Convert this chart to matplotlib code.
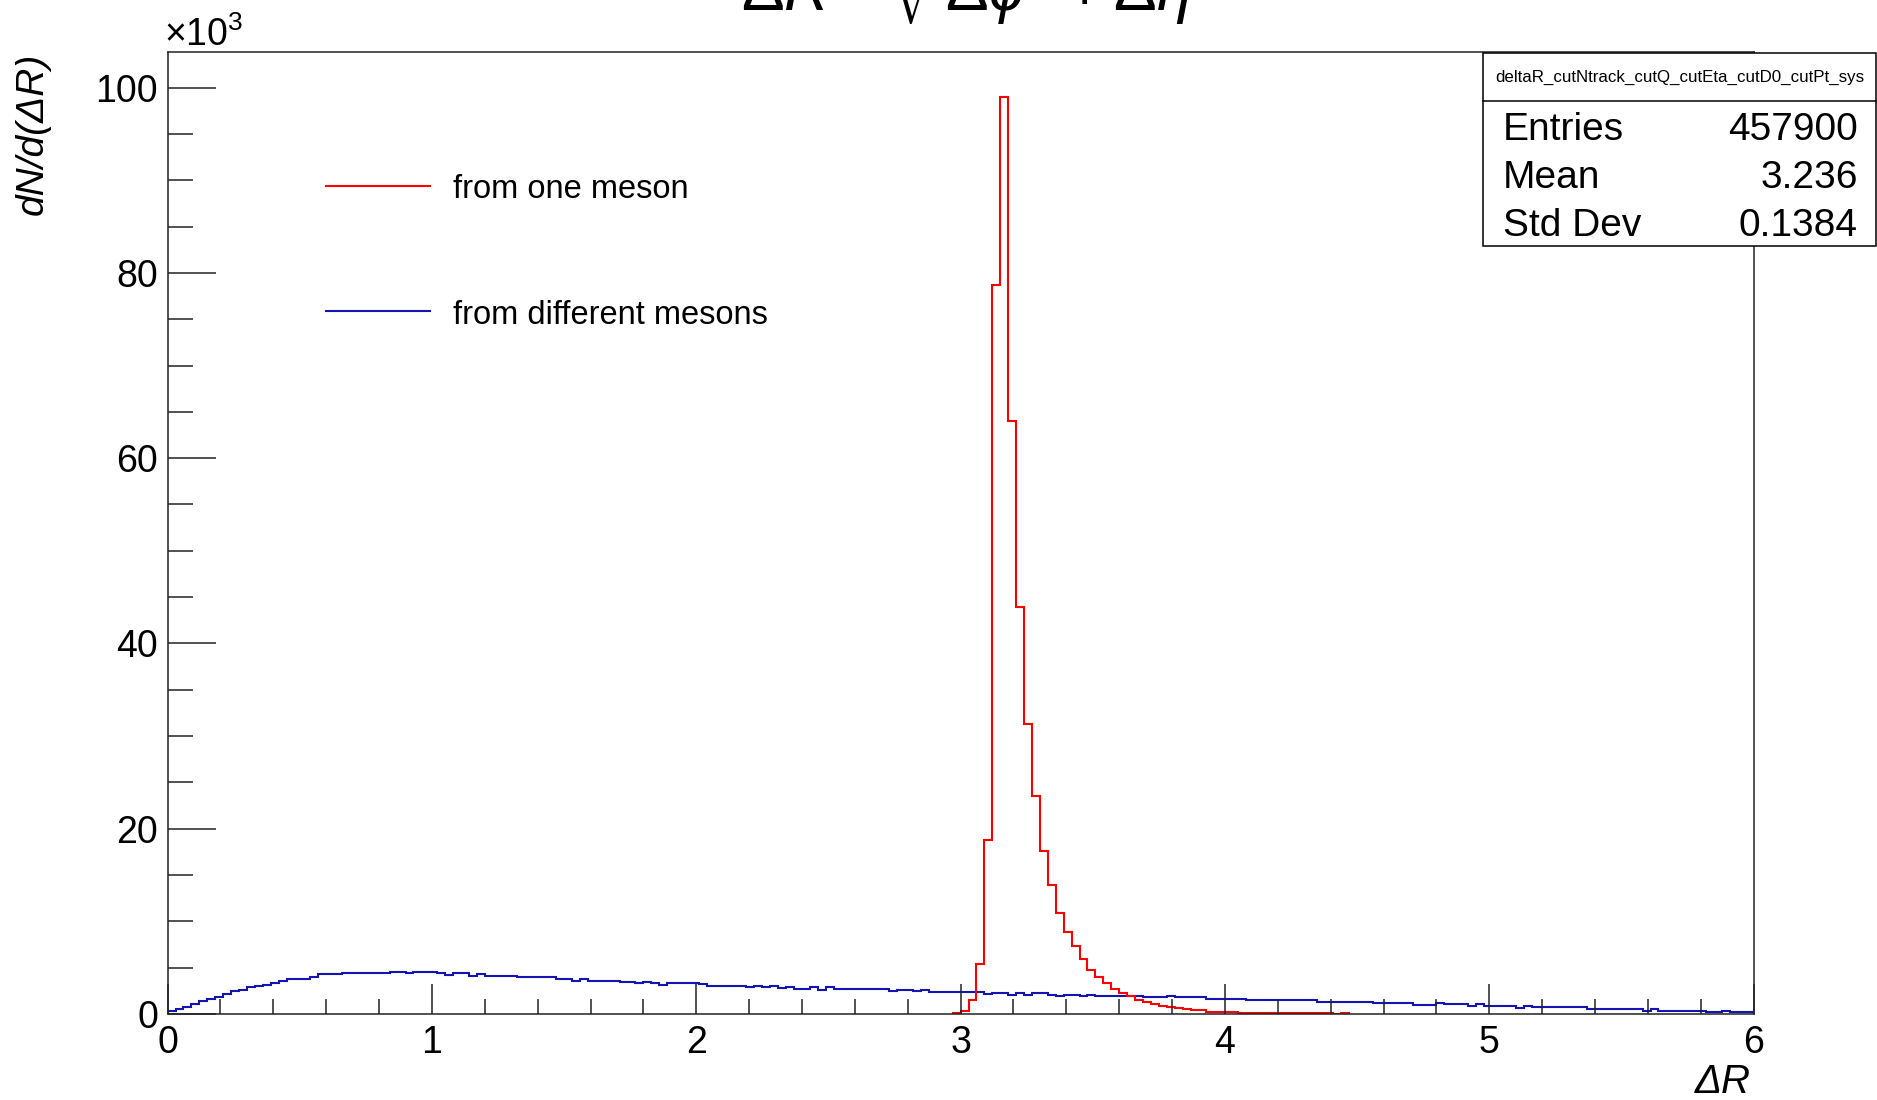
import numpy as np
import matplotlib
matplotlib.use("Agg")
import matplotlib.pyplot as plt
from matplotlib.patches import Rectangle
from matplotlib.lines import Line2D
from matplotlib.ticker import MultipleLocator

plt.rcParams['font.family'] = ['Liberation Sans', 'DejaVu Sans']
plt.rcParams['mathtext.fontset'] = 'custom'
plt.rcParams['mathtext.rm'] = 'Liberation Sans'
plt.rcParams['mathtext.it'] = 'Liberation Sans:italic'
plt.rcParams['mathtext.bf'] = 'Liberation Sans:bold'

# ---------------- data (counts per bin, in units of 10^3) ----------------
n_bins = 200
x_min, x_max = 0.0, 6.0

# "from one meson" : non-zero bins start at bin index 99 (dR = 2.97)
red_first_bin = 99
red_counts_k = [0.11, 0.29, 1.5, 5.4, 18.8, 78.7, 99.0, 64.0, 43.9, 31.3,
                23.5, 17.6, 13.9, 10.9, 8.8, 7.3, 5.9, 4.7, 3.95, 3.3,
                2.7, 2.3, 1.9, 1.5, 1.3, 1.07, 0.89, 0.76, 0.6, 0.54,
                0.43, 0.43, 0.25, 0.25, 0.25, 0.25, 0.11, 0.11, 0.11, 0.11,
                0.11, 0.11, 0.11, 0.11, 0.11, 0.11, 0.11, 0.11, 0.0, 0.11]

# "from different mesons" : all 200 bins
blue_counts_k = [
    0.29, 0.58, 0.79, 1.08, 1.37, 1.62, 1.83, 2.16, 2.45, 2.63,
    2.88, 3.06, 3.13, 3.35, 3.53, 3.78, 3.78, 3.78, 3.96, 4.32,
    4.32, 4.32, 4.42, 4.42, 4.42, 4.42, 4.42, 4.42, 4.57, 4.57,
    4.42, 4.57, 4.57, 4.57, 4.42, 4.24, 4.42, 4.42, 4.14, 4.32,
    4.14, 4.14, 4.14, 4.14, 3.96, 3.96, 3.96, 3.96, 3.96, 3.78,
    3.78, 3.60, 3.78, 3.60, 3.60, 3.60, 3.60, 3.42, 3.42, 3.31,
    3.49, 3.38, 3.17, 3.35, 3.35, 3.35, 3.35, 3.24, 3.06, 3.06,
    3.06, 3.06, 3.06, 2.88, 3.06, 2.88, 3.06, 2.81, 2.88, 2.70,
    2.70, 2.88, 2.59, 2.88, 2.70, 2.70, 2.70, 2.70, 2.70, 2.70,
    2.70, 2.45, 2.59, 2.59, 2.45, 2.59, 2.41, 2.41, 2.41, 2.41,
    2.34, 2.34, 2.34, 2.16, 2.23, 2.23, 2.09, 2.23, 2.09, 2.23,
    2.23, 2.09, 1.98, 2.09, 2.09, 1.98, 2.09, 1.98, 1.98, 1.98,
    1.98, 1.98, 1.98, 1.80, 1.80, 1.80, 1.98, 1.80, 1.80, 1.80,
    1.80, 1.62, 1.62, 1.62, 1.62, 1.62, 1.51, 1.51, 1.51, 1.51,
    1.51, 1.51, 1.51, 1.51, 1.51, 1.33, 1.33, 1.33, 1.33, 1.33,
    1.33, 1.33, 1.19, 1.19, 1.19, 1.19, 1.19, 1.01, 1.01, 1.01,
    1.19, 1.04, 1.04, 1.04, 0.86, 1.04, 0.90, 0.90, 0.90, 0.90,
    0.68, 0.90, 0.72, 0.72, 0.72, 0.72, 0.72, 0.72, 0.72, 0.50,
    0.50, 0.50, 0.50, 0.50, 0.50, 0.50, 0.32, 0.50, 0.36, 0.36,
    0.36, 0.36, 0.36, 0.36, 0.18, 0.18, 0.32, 0.18, 0.18, 0.18]

legend_labels = ["from one meson", "from different mesons"]
stats_name = "deltaR_cutNtrack_cutQ_cutEta_cutD0_cutPt_sys"
stats_rows = [("Entries", "457900"), ("Mean", "3.236"), ("Std Dev", "0.1384")]
x_ticks = [0, 1, 2, 3, 4, 5, 6]
y_ticks = [0, 20, 40, 60, 80, 100]
# ------------------------------------------------------------------------

W, H = 1877, 1100
fig = plt.figure(figsize=(W / 100, H / 100), dpi=100)

def fx(px):
    return px / W

def fy(py):
    return 1 - py / H

ax_l, ax_r, ax_t, ax_b = 167.6, 1753.6, 51.5, 1013.9
ax = fig.add_axes([fx(ax_l), fy(ax_b), fx(ax_r - ax_l), (ax_b - ax_t) / H])

edges = np.linspace(x_min, x_max, n_bins + 1)
red_edges = edges[red_first_bin:red_first_bin + len(red_counts_k) + 1]

blue_col = '#1414b4'
red_col = '#ff0000'
ax.stairs(blue_counts_k, edges, color=blue_col, linewidth=1.5, baseline=0)
ax.stairs(red_counts_k, red_edges, color=red_col, linewidth=1.5, baseline=0)

ax.set_xlim(x_min, x_max)
ax.set_ylim(0, 103.9)
ax.set_xticks(x_ticks)
ax.set_yticks(y_ticks)
ax.xaxis.set_minor_locator(MultipleLocator(0.2))
ax.yaxis.set_minor_locator(MultipleLocator(5))
ax.tick_params(axis='x', which='major', direction='in', length=21.6, width=1.1,
               labelsize=27, pad=8, color='#222222')
ax.tick_params(axis='x', which='minor', direction='in', length=10.8, width=1.1,
               color='#222222')
ax.tick_params(axis='y', which='major', direction='in', length=34.6, width=1.1,
               labelsize=27, pad=7, color='#222222')
ax.tick_params(axis='y', which='minor', direction='in', length=18, width=1.1,
               color='#222222')
for s in ax.spines.values():
    s.set_linewidth(1.1)
    s.set_color('#222222')
    s.set_zorder(5)

# axis titles
fig.text(fx(1751), fy(1082), "ΔR", style='italic', fontsize=29,
         ha='right', va='center')
fig.text(fx(33), fy(53), "dN/d(ΔR)", style='italic', fontsize=28,
         rotation=90, ha='center', va='top')
fig.text(fx(164), fy(46), r"$\times10^{3}$", fontsize=27, ha='left',
         va='baseline')

# title (mostly outside the canvas, as in the reference)
fig.text(fx(986), fy(12), r"$\mathit{\Delta R} = \sqrt{\mathit{\Delta\phi}^{2} + \mathit{\Delta\eta}^{2}}$",
         fontsize=46, ha='center', va='baseline')

# legend
for (col, y, lab) in [(red_col, 186, legend_labels[0]), (blue_col, 311, legend_labels[1])]:
    fig.add_artist(Line2D([fx(326), fx(430)], [fy(y), fy(y)], color=col,
                          linewidth=1.5, transform=fig.transFigure))
    fig.text(fx(453), fy(y + 4), lab, fontsize=23.5, ha='left', va='center')

# stats box
box_l, box_r, box_t, box_b, head_b = 1483, 1876, 53, 246, 101
fig.add_artist(Rectangle((fx(box_l), fy(box_b)), fx(box_r - box_l), (box_b - box_t) / H,
                         transform=fig.transFigure, facecolor='white',
                         edgecolor='black', linewidth=1.1, zorder=10))
fig.add_artist(Line2D([fx(box_l), fx(box_r)], [fy(head_b), fy(head_b)],
                      color='black', linewidth=1.1, transform=fig.transFigure, zorder=11))
fig.text(fx((box_l + box_r) / 2), fy((box_t + head_b) / 2), stats_name,
         fontsize=12.2, ha='center', va='center', zorder=12)
for (name, val), yc in zip(stats_rows, [130.5, 178.5, 226.5]):
    fig.text(fx(1503), fy(yc), name, fontsize=28, ha='left', va='center', zorder=12)
    fig.text(fx(1858), fy(yc), val, fontsize=28, ha='right', va='center', zorder=12)

fig.savefig("out.png", dpi=100)
